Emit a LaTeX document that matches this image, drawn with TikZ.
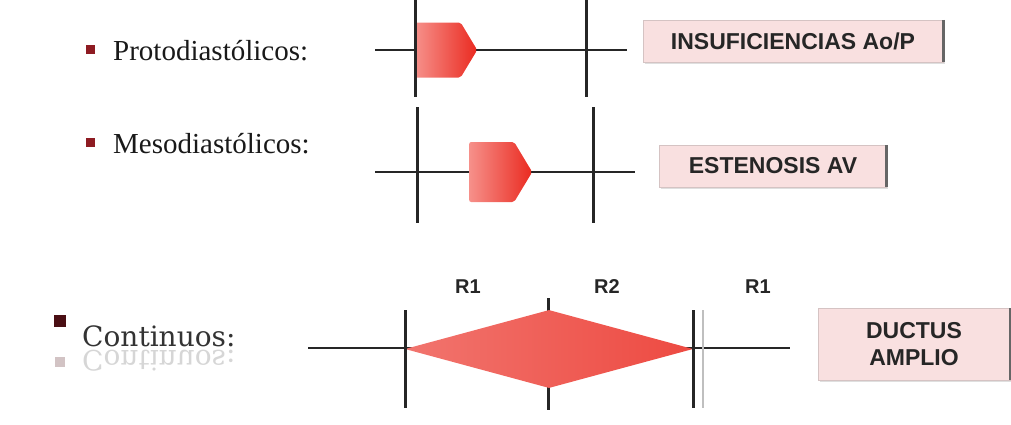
\documentclass[tikz,border=0pt]{standalone}
\usepackage{fontspec}
\setmainfont{Liberation Serif}
\newfontfamily\boxfont{Liberation Sans}
\newfontfamily\slabfont{DejaVu Serif}
\usetikzlibrary{positioning, shapes, shapes.geometric, shapes.symbols, shadows}
\definecolor{murmurred}{HTML}{EA2A20}
\definecolor{murmurpink}{HTML}{F6908A}
\definecolor{boxpink}{HTML}{F9E0E0}
\definecolor{bulletred}{HTML}{8E1B22}
\definecolor{bulletdark}{HTML}{4A0F14}
\definecolor{inkgray}{HTML}{262626}
\tikzstyle{axis} = [line width=2.6pt, draw=inkgray]

\begin{document}
\begin{tikzpicture}[x=1pt, y=-1pt]
                    \tikzstyle{every node}=[inner sep=0pt]
                    \tikzstyle{tick} = [line width=3pt, draw=inkgray]
                    \tikzstyle{murmur} = [signal, signal to=east, signal pointer angle=118, left color=murmurpink, right color=murmurred, rounded corners=2pt]
                    \tikzstyle{diagbox} = [rectangle, fill=boxpink, draw=boxpink!70!gray, text=black!85, align=center, font=\boxfont\bfseries\fontsize{23}{27}\selectfont, drop shadow={opacity=0.25, shadow xshift=1.5pt, shadow yshift=-2pt}]
                    \tikzstyle{boxedge} = [line width=3pt, draw=black!60]
                    \tikzstyle{rlabel} = [font=\boxfont\bfseries\fontsize{20}{24}\selectfont, text=black!85]
                    \tikzstyle{lbl} = [font=\fontsize{29}{33}\selectfont, text=black!90, anchor=base west]
                    \tikzstyle{bulletsq} = [rectangle, fill=bulletred, minimum size=9pt]

                    \useasboundingbox (0,0) rectangle (1011,424);

                    % protodiastolicos
                    \node[bulletsq] (b1) at (90,49) {};
                    \node[lbl] (proto) at (113,60) {Protodiastólicos:};
                    \coordinate (a1w) at (375,50);
                    \coordinate (a1e) at (627,50);
                    \draw[axis] (a1w) -- (a1e);
                    \node[murmur, minimum width=62pt, minimum height=55pt, anchor=west] (m1) at (415,50) {};
                    \draw[tick] (415,0) coordinate (s1a) -- (415,97) coordinate (s1b);
                    \draw[tick] (586,0) coordinate (d1a) -- (586,97) coordinate (d1b);
                    \node[diagbox, minimum width=300pt, minimum height=42pt] (insuf) at (793,41) {INSUFICIENCIAS Ao/P};
                    \draw[boxedge] (insuf.north east) -- (insuf.south east);

                    % mesodiastolicos
                    \node[bulletsq] (b2) at (90,142) {};
                    \node[lbl] (meso) at (113,153) {Mesodiastólicos:};
                    \coordinate (a2w) at (375,172);
                    \coordinate (a2e) at (635,172);
                    \draw[axis] (a2w) -- (a2e);
                    \node[murmur, minimum width=63pt, minimum height=60pt, anchor=west] (m2) at (469,172) {};
                    \draw[tick] (417,107) coordinate (s2a) -- (417,223) coordinate (s2b);
                    \draw[tick] (593,107) coordinate (d2a) -- (593,223) coordinate (d2b);
                    \node[diagbox, minimum width=227pt, minimum height=42pt] (esten) at (773,166) {ESTENOSIS AV};
                    \draw[boxedge] (esten.north east) -- (esten.south east);

                    % continuos
                    \node[rectangle, fill=bulletdark, minimum size=12pt] (b3) at (60,321) {};
                    \node[lbl, font=\slabfont\fontsize{28}{32}\selectfont, text=black!80] (cont) at (82,346) {Continuos:};
                    \node[rectangle, fill=bulletdark, minimum size=10pt, opacity=0.25] (b3r) at (60,362) {};
                    \node[lbl, font=\slabfont\fontsize{28}{32}\selectfont, text=black!80, opacity=0.2, yscale=-1] (contr) at (82,350) {Continuos:};
                    \node[rlabel] (r1a) at (468,287) {R1};
                    \node[rlabel] (r2) at (607,287) {R2};
                    \node[rlabel] (r1b) at (758,287) {R1};
                    \coordinate (a3w) at (308,348);
                    \coordinate (a3e) at (790,348);
                    \draw[axis] (a3w) -- (a3e);
                    \draw[tick] (548,298) coordinate (mida) -- (548,410) coordinate (midb);
                    \node[diamond, minimum width=288pt, minimum height=78pt, left color=murmurred!65!white, right color=murmurred!85!white] (m3) at (549,349) {};
                    \draw[tick] (405,310) coordinate (s3a) -- (405,408) coordinate (s3b);
                    \draw[line width=2pt, draw=black!25] (703,310) -- (703,408);
                    \draw[tick] (693,310) coordinate (d3a) -- (693,408) coordinate (d3b);
                    \node[diagbox, minimum width=192pt, minimum height=72pt] (ductus) at (914,344) {DUCTUS\\AMPLIO};
                    \draw[boxedge] (ductus.north east) -- (ductus.south east);
\end{tikzpicture}
\end{document}
